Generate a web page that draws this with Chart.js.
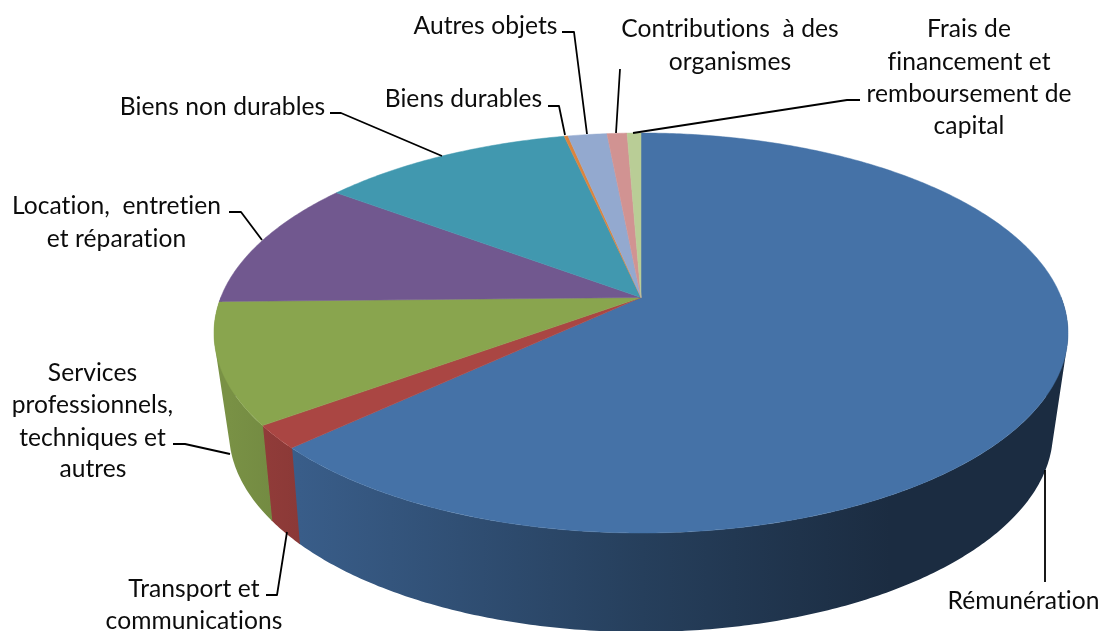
<!DOCTYPE html>
<html>
<head>
<meta charset="utf-8">
<title>Dépenses</title>
<script src="https://cdn.jsdelivr.net/npm/chart.js@4/dist/chart.umd.min.js"></script>
<style>
	html, body { margin: 0; padding: 0; background: #fff; }
	canvas { display: block; }
</style>
</head>
<body>
<canvas id="depenses" width="1106" height="631"></canvas>
<script>
// values, in percent
var categories = ["Rémunération", "Transport et communications", "Services professionnels, techniques et autres",
	"Location, entretien et réparation", "Biens non durables", "Biens durables", "Autres objets",
	"Contributions à des organismes", "Frais de financement et remboursement de capital"];
var values = [63.04, 1.88, 9.75, 10.53, 11.36, 0.17, 1.75, 0.90, 0.62];
var colors = ["#4572A7", "#AA4643", "#89A54E", "#71588F", "#4198AF", "#DB843D", "#93A9CF", "#D19392", "#B9CD96"];

// label text, one entry per line: text, centre x, middle y
var labelLines = [
	["Rémunération", 1023.5, 601],
	["Transport et", 194, 589],
	["communications", 194, 621],
	["Services", 92.5, 373],
	["professionnels,", 92.5, 405],
	["techniques et", 92.5, 438],
	["autres", 93, 469],
	["Location,  entretien", 116.5, 206],
	["et réparation", 116.5, 239],
	["Biens non durables", 222.5, 107],
	["Biens durables", 463.5, 99],
	["Autres objets", 485.5, 26],
	["Contributions  à des", 730, 29],
	["organismes", 730, 62],
	["Frais de", 969, 29],
	["financement et", 969, 62],
	["remboursement de", 969, 94],
	["capital", 969, 126]
];

var leaders = [
	[[1045, 470], [1045, 582]],
	[[287, 532], [277, 595], [266, 595]],
	[[230, 454], [185, 444], [173, 444]],
	[[262, 240], [241, 212], [229, 212]],
	[[442, 156], [341, 113], [330, 113]],
	[[565, 135], [559, 106], [548, 106]],
	[[587, 134], [574, 32], [562, 32]],
	[[616, 133], [620, 69]],
	[[633, 133], [847, 100], [860, 100]]
];

// top face and bottom rim of the tilted pie (perspective, so apex sits above ellipse centre)
var topFace = { cx: 641, cy: 333, rx: 427, ry: 200, a: -0.1775 };
var bottomRim = { cx: 641, cy: 432, rx: 412, ry: 200, a: -0.2 };

function project(e, angle) {
	var X = Math.cos(angle), Y = Math.sin(angle);
	var d = 1 + e.a * Y;
	return [e.cx + e.rx * X * Math.sqrt(1 - e.a * e.a) / d, e.cy + e.ry * (Y + e.a) / d];
}

function apex(e) {
	return [e.cx, e.cy + e.ry * e.a];
}

function shade(hex, f) {
	var n = parseInt(hex.slice(1), 16);
	return "rgb(" + Math.round((n >> 16) * f) + "," + Math.round(((n >> 8) & 255) * f) + "," + Math.round((n & 255) * f) + ")";
}

function wallGradient(ctx, color) {
	var g = ctx.createLinearGradient(229, 0, 1056, 0);
	g.addColorStop(0, shade(color, 0.88));
	g.addColorStop(0.085, shade(color, 0.82));
	g.addColorStop(0.5, shade(color, 0.55));
	g.addColorStop(0.8, shade(color, 0.39));
	g.addColorStop(1, shade(color, 0.39));
	return g;
}

function tracePoints(ctx, pts) {
	pts.forEach(function(p, i) {
		if (i == 0) ctx.moveTo(p[0], p[1]);
		else ctx.lineTo(p[0], p[1]);
	});
}

function arcAngles(start, end) {
	var list = [];
	var steps = Math.max(2, Math.ceil((end - start) / 0.01));
	for (var i = 0; i <= steps; i++) {
		list.push(start + (end - start) * i / steps);
	}
	return list;
}

function area(q) {
	var s = 0;
	q.forEach(function(p, i) {
		var n = q[(i + 1) % q.length];
		s += p[0] * n[1] - n[0] * p[1];
	});
	return s;
}

var tiltedPie = {
	id: "tiltedPie",
	beforeDatasetDraw: function(chart, args) {
		var ctx = chart.ctx;
		var arcs = chart.getDatasetMeta(args.index).data;

		// outer wall first: quads of one slice go in one path, all wound the same way, so no seams
		arcs.forEach(function(arc, i) {
			var angles = arcAngles(arc.startAngle - 0.002, arc.endAngle + 0.002);
			ctx.beginPath();
			for (var k = 0; k < angles.length - 1; k++) {
				// back of the pie is hidden under the top face
				if (Math.sin(angles[k]) < 0 && Math.sin(angles[k + 1]) < 0) continue;
				var q = [project(topFace, angles[k]), project(topFace, angles[k + 1]),
					project(bottomRim, angles[k + 1]), project(bottomRim, angles[k])];
				if (area(q) < 0) q.reverse();
				tracePoints(ctx, q);
				ctx.closePath();
			}
			ctx.fillStyle = wallGradient(ctx, colors[i]);
			ctx.fill();
		});

		arcs.forEach(function(arc, i) {
			var pts = arcAngles(arc.startAngle, arc.endAngle).map(function(t) {
				return project(topFace, t);
			});
			ctx.beginPath();
			tracePoints(ctx, [apex(topFace)].concat(pts));
			ctx.closePath();
			ctx.fillStyle = arc.options.backgroundColor;
			ctx.strokeStyle = arc.options.backgroundColor;
			ctx.lineWidth = 0.5;
			ctx.fill();
			ctx.stroke();
		});
		return false;
	},
	afterDraw: function(chart) {
		var ctx = chart.ctx;
		ctx.save();
		ctx.strokeStyle = "#000";
		ctx.lineWidth = 1.8;
		ctx.lineJoin = "round";
		leaders.forEach(function(line) {
			ctx.beginPath();
			tracePoints(ctx, line);
			ctx.stroke();
		});
		ctx.fillStyle = "#0c0c0c";
		ctx.font = "24.6px Lato";
		ctx.letterSpacing = "0.05px"; // keeps Lato from joining ti and fi
		ctx.textAlign = "center";
		ctx.textBaseline = "middle";
		labelLines.forEach(function(l) {
			ctx.fillText(l[0], l[1], l[2]);
		});
		ctx.restore();
	}
};

var chart = new Chart(document.getElementById("depenses"), {
	type: "pie",
	data: {
		labels: categories,
		datasets: [{
			data: values,
			backgroundColor: colors,
			borderWidth: 0
		}]
	},
	options: {
		responsive: false,
		animation: false,
		plugins: {
			legend: { display: false },
			tooltip: { enabled: false }
		}
	},
	plugins: [tiltedPie]
});
</script>
</body>
</html>
